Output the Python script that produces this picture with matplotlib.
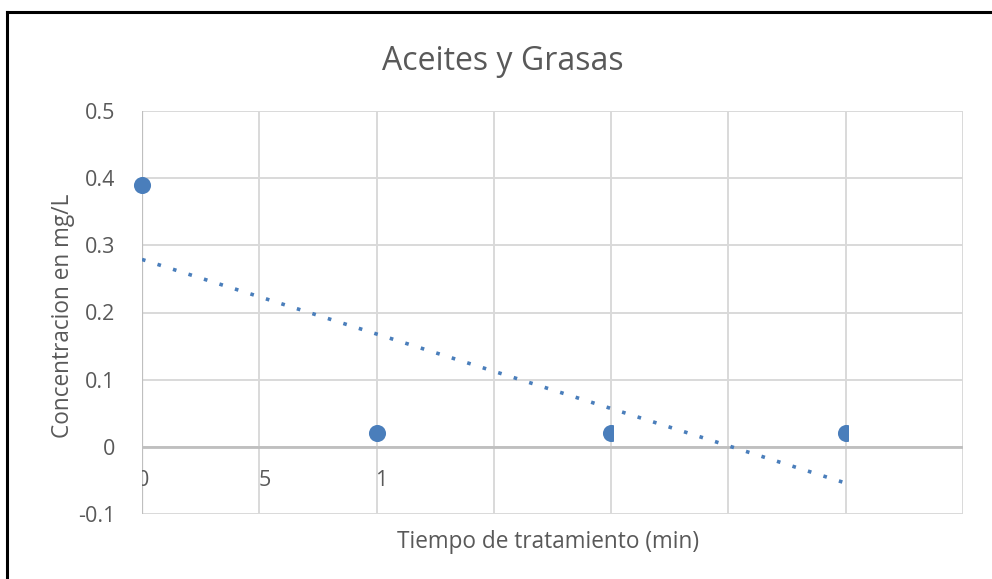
import numpy as np
import matplotlib
matplotlib.use("Agg")
import matplotlib.pyplot as plt
from matplotlib.lines import Line2D
from matplotlib.patches import Rectangle

# Data
tiempo = [0, 10, 20, 30]
concentracion = [0.39, 0.02, 0.02, 0.02]
y_ticks = [-0.1, 0, 0.1, 0.2, 0.3, 0.4, 0.5]
y_tick_labels = ["-0.1", "0", "0.1", "0.2", "0.3", "0.4", "0.5"]
x_tick_pos = [0, 5, 10]
x_tick_labels = ["0", "5", "1"]
titulo = "Aceites y Grasas"
x_titulo = "Tiempo de tratamiento (min)"
y_titulo = "Concentracion en mg/L"

FONT = ["Open Sans", "DejaVu Sans"]
TXT = "#595959"
BLUE = "#4a7ebb"
GRID = "#d9d9d9"
AXLINE = "#bfbfbf"

fig = plt.figure(figsize=(9.92, 5.79), dpi=100)
fig.patch.set_facecolor("white")
ax = fig.add_axes([142 / 992, 1 - 514 / 579, (963 - 142) / 992, (514 - 111) / 579])

ax.set_xlim(0, 35)
ax.set_ylim(-0.1, 0.5)
for s in ax.spines.values():
    s.set_visible(False)

# grid
for xv in np.arange(5, 36, 5):
    ax.axvline(xv, color=GRID, lw=1.4, zorder=1)
for yv in y_ticks:
    ax.axhline(yv, color=GRID, lw=1.4, zorder=1)
ax.axvline(0, color=AXLINE, lw=1.6, zorder=2)
ax.axhline(0, color=AXLINE, lw=2.0, zorder=2)

ax.set_xticks([])
ax.set_yticks(y_ticks)
ax.set_yticklabels(y_tick_labels, fontfamily=FONT, fontsize=15.5, color=TXT)
ax.tick_params(axis="y", length=0, pad=19)

# x tick labels sit just right of their gridlines, clipped at the plot's left edge
clip = Rectangle((0, -1), 1, 2, transform=ax.transAxes, visible=False)
ax.add_patch(clip)
for xp, lab in zip(x_tick_pos, x_tick_labels):
    off = -4.0 if xp == 0 else -0.8
    t = ax.annotate(lab, xy=(xp, 0), xycoords=("data", "data"),
                    xytext=(off, -32 * 0.75), textcoords="offset points",
                    ha="left", va="center", fontfamily=FONT, fontsize=15.5,
                    color=TXT, annotation_clip=False, zorder=3)
    t.set_clip_path(clip)

# linear trendline
coef = np.polyfit(tiempo, concentracion, 1)
xt = np.array([tiempo[0], tiempo[-1]])
ax.plot(xt, np.polyval(coef, xt), color=BLUE, lw=2.6,
        linestyle=(0, (1, 3.5)), dash_capstyle="butt", zorder=4)

# data points; the later ones are cut off along their gridline
half_cut = [False, False, True, True]
for xv, yv, cut in zip(tiempo, concentracion, half_cut):
    ln, = ax.plot([xv], [yv], marker="o", markersize=12.3, linestyle="none",
                  color=BLUE, markeredgewidth=0, clip_on=cut, zorder=5)
    if cut:
        box = Rectangle((xv - 5, -1), 5.08, 2, transform=ax.transData,
                        visible=False)
        ax.add_patch(box)
        ln.set_clip_path(box)

fig.text(503 / 992, 1 - 62 / 579, titulo, ha="center", va="center",
         fontfamily=FONT, fontsize=23, color=TXT)
fig.text(548 / 992, 1 - 542 / 579, x_titulo, ha="center", va="center",
         fontfamily=FONT, fontsize=16.3, color=TXT)
fig.text(63 / 992, 1 - 316 / 579, y_titulo, ha="center", va="center",
         rotation=90, fontfamily=FONT, fontsize=16.3, color=TXT)

# chart frame edges
fig.add_artist(Line2D([7 / 992, 7 / 992], [0, 1 - 12 / 579],
                      transform=fig.transFigure, color="black", lw=2.2))
fig.add_artist(Line2D([7 / 992, 1], [1 - 12 / 579, 1 - 12 / 579],
                      transform=fig.transFigure, color="black", lw=2.2))

fig.savefig("out.png", dpi=100, facecolor="white")
